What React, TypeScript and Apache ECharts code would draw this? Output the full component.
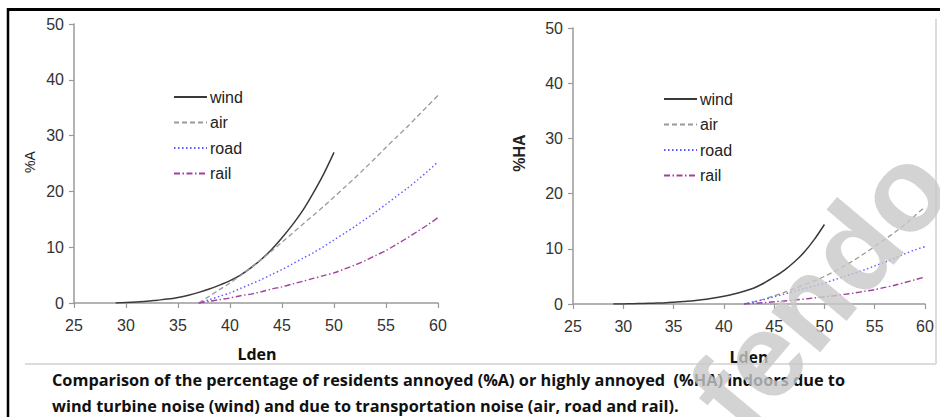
import React, { useEffect, useRef } from "react";
import * as echarts from "echarts";

// ---- Data ----
const windX = [29, 30, 31, 32, 33, 34, 35, 36, 37, 38, 39, 40, 41, 42, 43, 44, 45, 46, 47, 48, 49, 50];
const transX = [37, 38, 39, 40, 41, 42, 43, 44, 45, 46, 47, 48, 49, 50, 51, 52, 53, 54, 55, 56, 57, 58, 59, 60];
const transXHA = [42, 43, 44, 45, 46, 47, 48, 49, 50, 51, 52, 53, 54, 55, 56, 57, 58, 59, 60];

// %A (annoyed)
const windA = [0, 0.1, 0.2, 0.3, 0.5, 0.7, 1.0, 1.4, 1.9, 2.5, 3.2, 4.0, 5.0, 6.3, 7.8, 9.6, 11.7, 14.0, 16.6, 19.7, 23.1, 27.0];
const airA = [0, 1.2, 2.4, 3.6, 4.9, 6.3, 7.8, 9.3, 10.9, 12.5, 14.1, 15.7, 17.3, 19.0, 20.7, 22.4, 24.2, 26.0, 27.9, 29.7, 31.5, 33.4, 35.3, 37.2];
const roadA = [0, 0.6, 1.2, 1.8, 2.6, 3.4, 4.2, 5.1, 6.0, 7.0, 8.0, 9.0, 10.1, 11.3, 12.5, 13.7, 15.0, 16.3, 17.7, 19.1, 20.5, 22.0, 23.6, 25.3];
const railA = [0, 0.3, 0.6, 0.9, 1.3, 1.6, 2.0, 2.5, 2.9, 3.4, 3.9, 4.4, 4.9, 5.4, 6.1, 6.8, 7.6, 8.5, 9.4, 10.5, 11.6, 12.8, 14.0, 15.3];

// %HA (highly annoyed)
const windHA = [0, 0.02, 0.05, 0.1, 0.15, 0.2, 0.3, 0.45, 0.6, 0.8, 1.1, 1.4, 1.8, 2.3, 2.9, 3.8, 4.9, 6.1, 7.6, 9.4, 11.7, 14.4];
const airHA = [0, 0.4, 0.9, 1.5, 2.1, 2.8, 3.5, 4.2, 5.0, 5.9, 6.9, 8.0, 9.2, 10.4, 11.7, 13.0, 14.4, 16.0, 17.6];
const roadHA = [0, 0.4, 0.8, 1.3, 1.8, 2.3, 2.8, 3.3, 3.8, 4.4, 5.0, 5.6, 6.2, 6.9, 7.6, 8.3, 9.1, 9.8, 10.4];
const railHA = [0, 0.1, 0.25, 0.4, 0.55, 0.7, 0.9, 1.1, 1.3, 1.5, 1.75, 2.0, 2.3, 2.6, 3.0, 3.4, 3.9, 4.4, 4.9];

const seriesNames = ["wind", "air", "road", "rail"];
const xTicks = { min: 25, max: 60, interval: 5 };
const yTicks = { min: 0, max: 50, interval: 10 };

const captionLine1 =
  "Comparison of the percentage of residents annoyed (%A) or highly annoyed  (%HA) indoors due to";
const captionLine2 =
  "wind turbine noise (wind) and due to transportation noise (air, road and rail).";

const zip = (xs: number[], ys: number[]) => xs.map((x, i) => [x, ys[i]]);

const styles: Record<string, any> = {
  wind: { color: "#3a3a3a", width: 1.5, type: "solid" },
  air: { color: "#9a9a9a", width: 1.3, type: [5, 3] },
  road: { color: "#5a5aff", width: 1.4, type: [1.5, 2.5] },
  rail: { color: "#a0409f", width: 1.4, type: [6, 2.5, 1.5, 2.5] },
};

export default function App() {
  const ref = useRef<HTMLDivElement>(null);

  useEffect(() => {
    if (!ref.current) return;
    const chart = echarts.init(ref.current, undefined, { renderer: "svg" });

    const axisLine = { lineStyle: { color: "#9a9a9a", width: 1.5 } };
    const axisTick = { show: true, length: 5, lineStyle: { color: "#9a9a9a", width: 1.2 } };
    const labelFont = { fontFamily: "Liberation Sans", fontSize: 16, color: "#333" };

    const mkX = (gi: number) => ({
      type: "value",
      gridIndex: gi,
      ...xTicks,
      axisLine: { show: true, onZero: false, ...axisLine },
      axisTick,
      splitLine: { show: false },
      axisLabel: { ...labelFont, margin: 14 },
    });
    const mkY = (gi: number) => ({
      type: "value",
      gridIndex: gi,
      ...yTicks,
      axisLine: { show: true, ...axisLine },
      axisTick,
      splitLine: { show: false },
      axisLabel: { ...labelFont, margin: 10 },
    });

    const mkSeries = (name: string, xs: number[], ys: number[], gi: number) => ({
      type: "line",
      name,
      xAxisIndex: gi,
      yAxisIndex: gi,
      data: zip(xs, ys),
      showSymbol: false,
      symbol: "none",
      smooth: 0.3,
      lineStyle: styles[name],
      itemStyle: { color: styles[name].color },
    });

    const mkLegend = (left: number, top: number) => ({
      orient: "vertical",
      left,
      top,
      data: seriesNames,
      itemWidth: 33,
      itemHeight: 14,
      itemGap: 9.5,
      itemStyle: { opacity: 0 },
      textStyle: { fontFamily: "Liberation Sans", fontSize: 16, color: "#222", padding: [0, 0, 0, -2] },
      selectedMode: false,
    });

    const captionFont = 'bold 16.3px "Open Sans"';

    chart.setOption({
      animation: false,
      backgroundColor: "#fff",
      grid: [
        { left: 74, top: 24, width: 364, height: 279 },
        { left: 573, top: 28, width: 352, height: 276 },
      ],
      xAxis: [mkX(0), mkX(1)],
      yAxis: [mkY(0), mkY(1)],
      legend: [mkLegend(168, 84), mkLegend(658, 86)],
      series: [
        mkSeries("wind", windX, windA, 0),
        mkSeries("air", transX, airA, 0),
        mkSeries("road", transX, roadA, 0),
        mkSeries("rail", transX, railA, 0),
        mkSeries("wind", windX, windHA, 1),
        mkSeries("air", transXHA, airHA, 1),
        mkSeries("road", transXHA, roadHA, 1),
        mkSeries("rail", transXHA, railHA, 1),
      ],
      graphic: [
        // outer frame
        { type: "line", shape: { x1: 7, y1: 9.5, x2: 940, y2: 9.5 }, style: { stroke: "#000", lineWidth: 3 } },
        { type: "line", shape: { x1: 8, y1: 8, x2: 8, y2: 417 }, style: { stroke: "#000", lineWidth: 2.5 } },
        // light grey inner frame
        { type: "line", shape: { x1: 25, y1: 364, x2: 936, y2: 364 }, style: { stroke: "#dcdcdc", lineWidth: 2 } },
        { type: "line", shape: { x1: 936, y1: 19, x2: 936, y2: 364 }, style: { stroke: "#dcdcdc", lineWidth: 2 } },
        // axis titles
        {
          type: "text", x: 30, y: 162, rotation: Math.PI / 2,
          style: { text: "%A", font: '14px "Liberation Sans"', fill: "#222", textAlign: "center", textVerticalAlign: "middle" },
        },
        {
          type: "text", x: 519, y: 153, rotation: Math.PI / 2,
          style: { text: "%HA", font: 'bold 16px "Liberation Sans"', fill: "#222", textAlign: "center", textVerticalAlign: "middle" },
        },
        {
          type: "text", x: 257, y: 354,
          style: { text: "Lden", font: 'bold 16px "Open Sans"', fill: "#111", textAlign: "center", textVerticalAlign: "middle" },
        },
        {
          type: "text", x: 749, y: 357,
          style: { text: "Lden", font: 'bold 16px "Open Sans"', fill: "#111", textAlign: "center", textVerticalAlign: "middle" },
        },
        // caption
        {
          type: "text", x: 52, y: 380,
          style: { text: captionLine1, font: captionFont, lineHeight: 18, fill: "#111", textAlign: "left", textVerticalAlign: "middle" },
        },
        {
          type: "text", x: 52, y: 406,
          style: { text: captionLine2, font: captionFont, lineHeight: 18, fill: "#111", textAlign: "left", textVerticalAlign: "middle" },
        },
        // watermark
        {
          type: "text", x: 760, y: 452, rotation: (50 * Math.PI) / 180, z: 100,
          style: { text: "fendo", font: 'bold 120px "Liberation Sans"', fill: "rgba(200,200,200,0.8)", textAlign: "left", textVerticalAlign: "bottom" },
        },
      ],
    });

    return () => chart.dispose();
  }, []);

  return (
    <div
      ref={ref}
      style={{ position: "absolute", left: 0, top: 0, width: 940, height: 417, background: "#fff" }}
    />
  );
}
